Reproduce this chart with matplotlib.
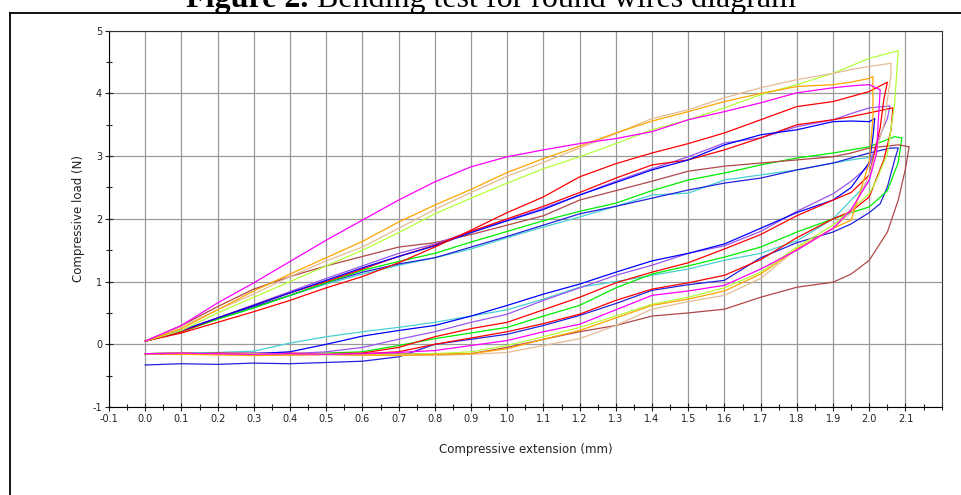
import matplotlib
matplotlib.use("Agg")
import matplotlib.pyplot as plt
from matplotlib.lines import Line2D
from matplotlib.ticker import FixedLocator, MultipleLocator, FormatStrFormatter

# Compressive extension (mm) at which the loading / unloading loads are read
extension = [0.0, 0.1, 0.2, 0.3, 0.4, 0.5, 0.6, 0.7, 0.8, 0.9, 1.0,
             1.1, 1.2, 1.3, 1.4, 1.5, 1.6, 1.7, 1.8, 1.9, 1.95, 2.0]

# --- one loop per specimen: loading branch, turn-around points, unloading branch (N)
magenta_load = [0.05, 0.30, 0.66, 0.98, 1.32, 1.66, 1.98, 2.30, 2.59, 2.83, 2.99,
                3.10, 3.20, 3.28, 3.39, 3.58, 3.71, 3.85, 4.01, 4.09, 4.12, 4.14]
magenta_turn_x = [2.03, 2.025, 2.02]
magenta_turn_y = [4.06, 3.57, 3.04]
magenta_unload = [-0.15, -0.14, -0.15, -0.16, -0.15, -0.16, -0.15, -0.13, -0.10, -0.02, 0.06,
                  0.20, 0.32, 0.55, 0.78, 0.85, 0.94, 1.20, 1.50, 1.85, 2.15, 2.62]

orange_load = [0.05, 0.25, 0.55, 0.85, 1.12, 1.38, 1.64, 1.95, 2.22, 2.47, 2.74,
               2.96, 3.16, 3.37, 3.56, 3.71, 3.87, 4.00, 4.11, 4.14, 4.18, 4.24]
orange_turn_x = [2.01, 2.01]
orange_turn_y = [4.27, 3.60]
orange_unload = [-0.15, -0.16, -0.17, -0.18, -0.17, -0.16, -0.17, -0.18, -0.16, -0.15, -0.07,
                 0.08, 0.22, 0.42, 0.62, 0.72, 0.85, 1.12, 1.52, 1.85, 1.98, 2.90]

tan_load = [0.05, 0.28, 0.55, 0.80, 1.08, 1.33, 1.55, 1.85, 2.15, 2.42, 2.68,
            2.90, 3.13, 3.36, 3.60, 3.74, 3.93, 4.09, 4.22, 4.32, 4.38, 4.43]
tan_turn_x = [2.06, 2.06, 2.04]
tan_turn_y = [4.48, 4.30, 3.50]
tan_unload = [-0.15, -0.15, -0.16, -0.17, -0.18, -0.17, -0.18, -0.17, -0.18, -0.16, -0.13,
              -0.02, 0.09, 0.30, 0.56, 0.68, 0.78, 1.05, 1.52, 1.85, 2.10, 2.70]

lime_load = [0.05, 0.22, 0.50, 0.75, 1.00, 1.25, 1.50, 1.78, 2.08, 2.33, 2.57,
             2.80, 2.99, 3.20, 3.42, 3.58, 3.77, 3.98, 4.14, 4.32, 4.44, 4.56]
lime_turn_x = [2.08, 2.07, 2.05, 2.02]
lime_turn_y = [4.68, 3.84, 3.04, 2.62]
lime_unload = [-0.15, -0.14, -0.16, -0.15, -0.16, -0.15, -0.17, -0.16, -0.15, -0.12, -0.02,
               0.12, 0.27, 0.45, 0.64, 0.75, 0.90, 1.15, 1.55, 1.90, 2.15, 2.40]

red1_load = [0.05, 0.18, 0.35, 0.52, 0.70, 0.90, 1.08, 1.30, 1.55, 1.82, 2.10,
             2.35, 2.67, 2.88, 3.05, 3.20, 3.37, 3.58, 3.79, 3.87, 3.95, 4.03]
red1_turn_x = [2.05, 2.04, 2.03, 2.01]
red1_turn_y = [4.18, 3.90, 3.45, 2.94]
red1_unload = [-0.15, -0.16, -0.14, -0.15, -0.16, -0.15, -0.14, -0.05, 0.12, 0.25, 0.35,
               0.55, 0.75, 0.98, 1.15, 1.30, 1.52, 1.75, 2.05, 2.30, 2.42, 2.70]

red2_load = [0.05, 0.20, 0.42, 0.62, 0.82, 1.00, 1.20, 1.40, 1.58, 1.80, 2.00,
             2.20, 2.42, 2.65, 2.86, 2.94, 3.10, 3.29, 3.50, 3.58, 3.63, 3.69]
red2_turn_x = [2.065, 2.06, 2.04]
red2_turn_y = [3.77, 3.41, 2.94]
red2_unload = [-0.15, -0.14, -0.16, -0.15, -0.14, -0.16, -0.15, -0.12, 0.00, 0.10, 0.20,
               0.33, 0.48, 0.70, 0.88, 0.98, 1.10, 1.35, 1.70, 2.00, 2.12, 2.35]

purple_load = [0.05, 0.22, 0.42, 0.63, 0.84, 1.05, 1.25, 1.45, 1.60, 1.80, 1.98,
               2.17, 2.38, 2.60, 2.80, 2.99, 3.21, 3.29, 3.47, 3.58, 3.68, 3.77]
purple_turn_x = [2.057, 2.05, 2.02]
purple_turn_y = [3.80, 3.60, 3.20]
purple_unload = [-0.15, -0.16, -0.15, -0.14, -0.15, -0.12, -0.05, 0.08, 0.20, 0.35, 0.48,
                 0.70, 0.90, 1.10, 1.26, 1.45, 1.57, 1.80, 2.12, 2.40, 2.60, 2.85]

blue1_load = [0.05, 0.22, 0.42, 0.62, 0.82, 1.02, 1.22, 1.40, 1.57, 1.78, 1.97,
              2.15, 2.38, 2.58, 2.78, 2.94, 3.18, 3.34, 3.42, 3.55, 3.56, 3.55]
blue1_turn_x = [2.015, 2.01]
blue1_turn_y = [3.60, 3.30]
blue1_unload = [-0.15, -0.15, -0.16, -0.15, -0.12, 0.00, 0.13, 0.22, 0.30, 0.45, 0.62,
                0.80, 0.96, 1.15, 1.33, 1.45, 1.60, 1.85, 2.10, 2.30, 2.50, 2.90]

brown_load = [0.05, 0.30, 0.60, 0.88, 1.08, 1.25, 1.40, 1.55, 1.62, 1.75, 1.90,
              2.05, 2.30, 2.45, 2.60, 2.76, 2.84, 2.89, 2.94, 2.99, 3.05, 3.13]
brown_turn_x = [2.08, 2.11, 2.10, 2.08, 2.05]
brown_turn_y = [3.18, 3.15, 2.80, 2.30, 1.79]
brown_unload = [-0.15, -0.16, -0.15, -0.14, -0.16, -0.15, -0.16, -0.15, -0.16, -0.15, -0.05,
                0.08, 0.20, 0.30, 0.45, 0.50, 0.56, 0.75, 0.91, 0.99, 1.12, 1.34]

green_load = [0.05, 0.20, 0.40, 0.58, 0.78, 0.98, 1.18, 1.32, 1.45, 1.63, 1.80,
              1.97, 2.12, 2.25, 2.45, 2.62, 2.73, 2.86, 2.97, 3.05, 3.10, 3.15]
green_turn_x = [2.07, 2.09, 2.08, 2.05]
green_turn_y = [3.31, 3.29, 2.90, 2.45]
green_unload = [-0.15, -0.14, -0.15, -0.16, -0.15, -0.14, -0.12, -0.02, 0.09, 0.18, 0.27,
                0.45, 0.62, 0.90, 1.12, 1.25, 1.39, 1.55, 1.79, 2.00, 2.10, 2.19]

blue2_load = [0.05, 0.20, 0.42, 0.60, 0.78, 0.98, 1.15, 1.28, 1.38, 1.55, 1.72,
              1.90, 2.08, 2.20, 2.33, 2.46, 2.57, 2.65, 2.78, 2.89, 2.97, 3.05]
blue2_turn_x = [2.06, 2.08, 2.07, 2.05, 2.03]
blue2_turn_y = [3.13, 3.13, 2.94, 2.51, 2.24]
blue2_unload = [-0.33, -0.31, -0.32, -0.30, -0.31, -0.29, -0.27, -0.20, 0.00, 0.08, 0.16,
                0.30, 0.46, 0.65, 0.86, 0.95, 1.02, 1.38, 1.62, 1.79, 1.92, 2.10]

cyan_load = [0.05, 0.20, 0.40, 0.58, 0.78, 0.96, 1.12, 1.26, 1.38, 1.52, 1.70,
             1.87, 2.03, 2.20, 2.38, 2.41, 2.62, 2.70, 2.78, 2.89, 2.94, 2.98]
cyan_turn_x = [2.01]
cyan_turn_y = [3.02]
cyan_unload = [-0.15, -0.14, -0.13, -0.11, 0.02, 0.12, 0.20, 0.27, 0.35, 0.45, 0.55,
               0.72, 0.91, 1.00, 1.10, 1.20, 1.34, 1.45, 1.65, 2.00, 2.30, 2.60]

x_ticks = [-0.1, 0.0, 0.1, 0.2, 0.3, 0.4, 0.5, 0.6, 0.7, 0.8, 0.9, 1.0,
           1.1, 1.2, 1.3, 1.4, 1.5, 1.6, 1.7, 1.8, 1.9, 2.0, 2.1]
y_ticks = [-1, 0, 1, 2, 3, 4, 5]

# drawing order and colours
loops = [
    ("#48d0d0", cyan_load, cyan_turn_x, cyan_turn_y, cyan_unload),
    ("#2222dd", blue2_load, blue2_turn_x, blue2_turn_y, blue2_unload),
    ("#00ee00", green_load, green_turn_x, green_turn_y, green_unload),
    ("#b04848", brown_load, brown_turn_x, brown_turn_y, brown_unload),
    ("#9955ee", purple_load, purple_turn_x, purple_turn_y, purple_unload),
    ("#ff0000", red2_load, red2_turn_x, red2_turn_y, red2_unload),
    ("#0000ff", blue1_load, blue1_turn_x, blue1_turn_y, blue1_unload),
    ("#ff0000", red1_load, red1_turn_x, red1_turn_y, red1_unload),
    ("#b4ff3c", lime_load, lime_turn_x, lime_turn_y, lime_unload),
    ("#e2bc96", tan_load, tan_turn_x, tan_turn_y, tan_unload),
    ("#ffa500", orange_load, orange_turn_x, orange_turn_y, orange_unload),
    ("#ff00ff", magenta_load, magenta_turn_x, magenta_turn_y, magenta_unload),
]

fig = plt.figure(figsize=(9.61, 4.95), dpi=100)
W, H = 961.0, 495.0
ax = fig.add_axes([109 / W, 1 - 407 / H, (941.7 - 109) / W, (407 - 30.7) / H])

for color, load, tx, ty, unload in loops:
    xs = extension + tx + extension[::-1]
    ys = load + ty + unload[::-1]
    ax.plot(xs, ys, color=color, linewidth=0.9)

ax.set_xlim(-0.1, 2.2)
ax.set_ylim(-1, 5)
ax.xaxis.set_major_locator(FixedLocator(x_ticks))
ax.xaxis.set_major_formatter(FormatStrFormatter("%.1f"))
ax.xaxis.set_minor_locator(MultipleLocator(0.05))
ax.yaxis.set_major_locator(FixedLocator(y_ticks))
ax.yaxis.set_major_formatter(FormatStrFormatter("%d"))
ax.yaxis.set_minor_locator(MultipleLocator(0.5))
ax.tick_params(which="both", direction="inout", labelsize=7, colors="#222222", pad=2)
ax.tick_params(which="major", length=6, width=0.8)
ax.tick_params(which="minor", length=5, width=0.8)

ax.grid(True, which="major", color="#999999", linewidth=0.9)
ax.set_axisbelow(True)
for side in ["top", "right"]:
    ax.spines[side].set_color("#333333")
for side in ["left", "bottom"]:
    ax.spines[side].set_color("black")

ax.set_xlabel("Compressive extension (mm)", fontsize=8.5, labelpad=14, color="#222222")
ax.set_ylabel("Compressive load (N)", fontsize=8.5, labelpad=5, color="#222222")

# figure caption, partly cut off by the page
renderer = fig.canvas.get_renderer()
t1 = fig.text(0, 1 - 7 / H, "Figure 2.", fontweight="bold", family="Liberation Serif",
              fontsize=23, va="baseline")
t2 = fig.text(0, 1 - 7 / H, " Bending test for round wires diagram", family="Liberation Serif",
              fontsize=23, va="baseline")
w1 = t1.get_window_extent(renderer).width
w2 = t2.get_window_extent(renderer).width
x0 = 491 - (w1 + w2) / 2
t1.set_x(x0 / W)
t2.set_x((x0 + w1) / W)

# page frame
fig.add_artist(Line2D([10 / W, 1.0], [1 - 13 / H, 1 - 13 / H], transform=fig.transFigure,
                      color="black", linewidth=1.3))
fig.add_artist(Line2D([10 / W, 10 / W], [0.0, 1 - 13 / H], transform=fig.transFigure,
                      color="black", linewidth=1.3))

fig.savefig("out.png", dpi=100)
